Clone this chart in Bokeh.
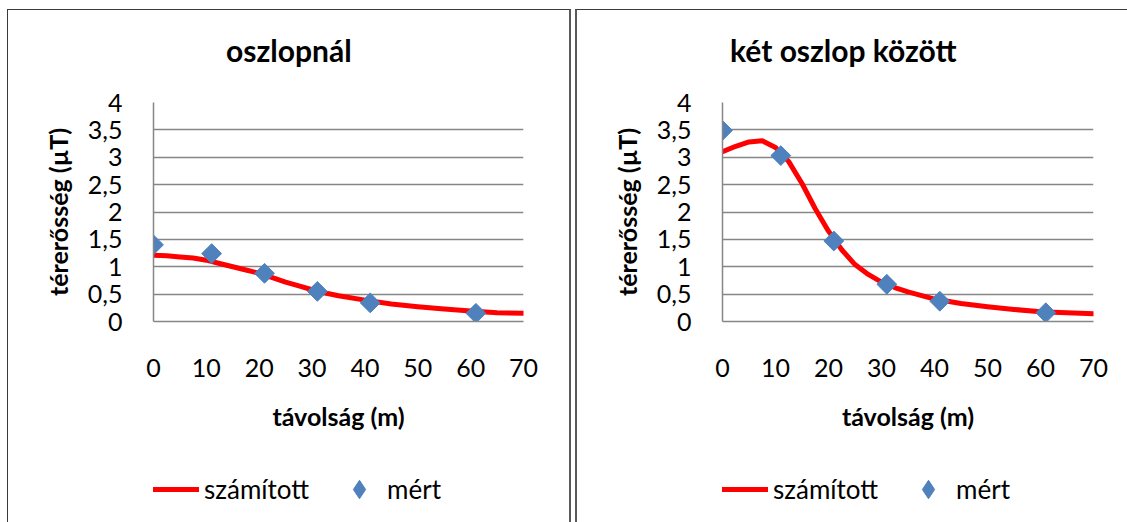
from bokeh.plotting import figure
from bokeh.models import (Range1d, FixedTicker, CustomJSTickFormatter, Legend, LegendItem, Label)
from bokeh.layouts import row, column
from bokeh.embed import file_html
from bokeh.resources import INLINE
import math

# ---- data ----
titles = ["oszlopnál", "két oszlop között"]
x_label = "távolság (m)"
y_label = "térerősség (µT)"
series_names = ["számított", "mért"]

x_ticks = [0, 10, 20, 30, 40, 50, 60, 70]
y_ticks = [0, 0.5, 1, 1.5, 2, 2.5, 3, 3.5, 4]

# measured (diamonds)
x_meas = [0, 11, 21, 31, 41, 61]
left_meas = [1.40, 1.24, 0.88, 0.55, 0.34, 0.15]
right_meas = [3.49, 3.03, 1.47, 0.68, 0.37, 0.16]

# computed (smooth red curve)
x_calc = [0, 2.5, 5, 7.5, 10, 12.5, 15, 17.5, 20, 22.5, 25, 27.5, 30, 32.5, 35,
          40, 45, 50, 55, 60, 65, 70]
left_calc = [1.21, 1.20, 1.18, 1.16, 1.12, 1.06, 1.00, 0.94, 0.88, 0.80, 0.72, 0.65, 0.58, 0.52, 0.47,
             0.39, 0.32, 0.27, 0.23, 0.19, 0.16, 0.15]
right_calc = [3.10, 3.20, 3.28, 3.30, 3.18, 2.92, 2.52, 2.06, 1.65, 1.31, 1.04, 0.86, 0.72, 0.62, 0.54,
              0.41, 0.33, 0.27, 0.22, 0.18, 0.16, 0.14]

FONT = "Lato"
GRID = "#868686"
RED = "#FF0000"
BLUE = "#4F81BD"
TITLE_H = 70
MAIN_H = 385
LEG_H = 57


def strip(width, right_border, height, xr, yr):
    s = figure(width=width, height=height, output_backend="svg", toolbar_location=None,
               x_range=xr, y_range=yr, x_axis_location=None, y_axis_location=None,
               min_border=0, min_border_left=145, min_border_right=right_border,
               outline_line_color=None, background_fill_color="white",
               border_fill_color="white")
    s.xgrid.grid_line_color = None
    s.ygrid.grid_line_color = None
    return s


def make_panel(title, calc, meas, width, right_border, title_x, margin_left, borders):
    # title strip (frame spans the strip; same horizontal scale as the chart)
    ts = strip(width, right_border, TITLE_H, Range1d(0, 70), Range1d(0, 1))
    ts.add_layout(Label(x=title_x, y=0.43, text=title, text_font=FONT, text_font_size="30px",
                        text_font_style="bold", text_align="center", text_baseline="middle",
                        text_color="black"))

    p = figure(width=width, height=MAIN_H, output_backend="svg", toolbar_location=None,
               x_range=Range1d(0, 70), y_range=Range1d(0, 4),
               min_border_left=145, min_border_right=right_border,
               min_border_top=92 - TITLE_H, min_border_bottom=MAIN_H - (92 - TITLE_H) - 219,
               outline_line_color=None, background_fill_color="white",
               border_fill_color="white")

    p.xaxis.ticker = FixedTicker(ticks=x_ticks)
    p.yaxis.ticker = FixedTicker(ticks=y_ticks)
    p.yaxis.formatter = CustomJSTickFormatter(code="return tick.toString().replace('.', ',')")
    for ax in (p.xaxis[0], p.yaxis[0]):
        ax.axis_line_color = GRID
        ax.axis_line_width = 1.5
        ax.major_tick_line_color = None
        ax.minor_tick_line_color = None
        ax.major_label_text_font = FONT
        ax.major_label_text_font_size = "25px"
        ax.major_label_text_color = "black"
        ax.axis_label_text_font = FONT
        ax.axis_label_text_font_size = "25px"
        ax.axis_label_text_font_style = "bold"
        ax.axis_label_text_color = "black"
    p.xaxis.axis_label = x_label
    p.yaxis.axis_label = y_label
    p.xaxis.major_label_standoff = 31
    p.xaxis.axis_label_standoff = 21
    p.yaxis.major_label_standoff = 25
    p.yaxis.axis_label_standoff = 12

    p.xgrid.grid_line_color = None
    p.ygrid.grid_line_color = GRID
    p.ygrid.grid_line_width = 1.5

    p.line(x_calc, calc, line_color=RED, line_width=5, line_join="round", line_cap="round")
    p.scatter(x_meas, meas, marker="square", size=14, angle=math.pi / 4,
              fill_color=BLUE, line_color=BLUE)

    # legend strip below the chart: same series drawn out of view, only the legend shows
    lg = strip(width, right_border, LEG_H, Range1d(-1000, -999), Range1d(-1000, -999))
    ln = lg.line(x_calc, calc, line_color=RED, line_width=5, line_cap="round")
    sc = lg.scatter(x_meas, meas, marker="diamond", size=14,
                    fill_color=BLUE, line_color=BLUE)
    legend = Legend(items=[LegendItem(label=series_names[0], renderers=[ln]),
                           LegendItem(label=series_names[1], renderers=[sc])],
                    orientation="horizontal", location=(0, 9),
                    glyph_width=46, glyph_height=48, label_height=48, label_standoff=5,
                    spacing=27, padding=0, margin=0, border_line_color=None,
                    background_fill_alpha=0, label_text_font=FONT,
                    label_text_font_size="26px", label_text_color="black")
    lg.add_layout(legend, "center")

    col = column(ts, p, lg, spacing=0)
    col.margin = (9, 0, 0, margin_left)
    col.styles = borders
    return col


left = make_panel(titles[0], left_calc, left_meas, 561, 46, 25.6, 7,
                  {"border-top": "1px solid #3a3a3a", "border-left": "1px solid #3a3a3a",
                   "border-right": "2px solid #5a5a5a"})
right = make_panel(titles[1], right_calc, right_meas, 555, 39, 22.8, 4,
                   {"border-top": "1px solid #3a3a3a", "border-left": "2px solid #5a5a5a"})

layout = row(left, right)
open("out.html", "w").write(file_html(layout, INLINE))
